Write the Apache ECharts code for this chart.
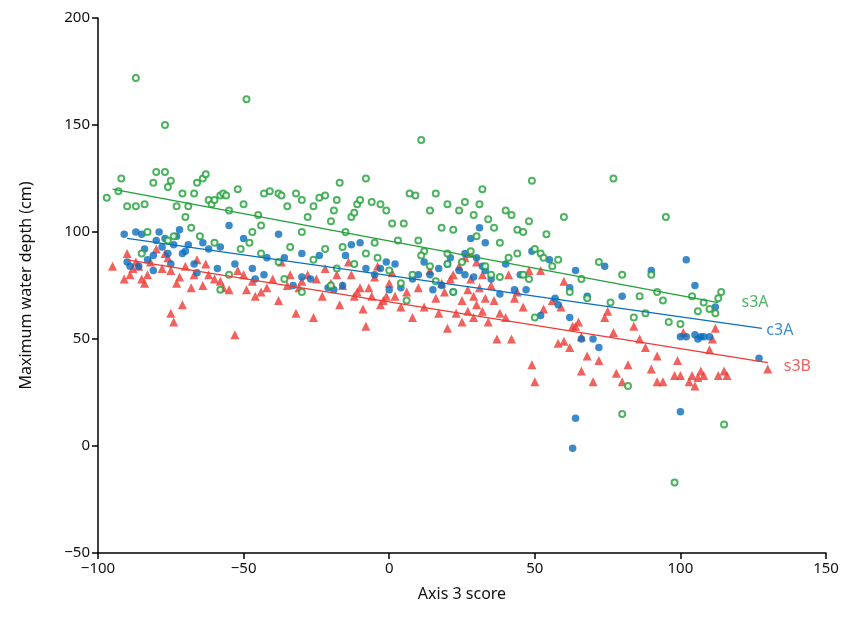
<!DOCTYPE html>
<html><head><meta charset="utf-8">
<script src="https://cdn.jsdelivr.net/npm/echarts@6/dist/echarts.min.js"></script>
<style>html,body{margin:0;padding:0;background:#fff}#c{width:855px;height:623px}</style>
</head><body><div id="c"></div>
<script>
const s3A = [[-87,172],[-49,162],[-77,150],[11,143],[49,124],[77,125],[-17,123],[95,107],[-97,116],[-93,119],[-92,125],[-90,112],[-87,112],[-84,113],[-81,123],[-80,128],[-77,128],[-76,121],[-75,124],[-73,112],[-71,118],[-70,107],[-69,112],[-67,118],[-66,123],[-64,125],[-63,127],[-62,115],[-61,113],[-60,115],[-58,117],[-57,118],[-56,117],[-55,110],[-52,120],[-50,113],[-48,95],[-47,100],[-45,108],[-44,103],[-43,118],[-41,119],[-38,118],[-37,117],[-35,112],[-32,118],[-30,115],[-28,107],[-26,112],[-24,116],[-22,117],[-20,105],[-19,110],[-18,115],[-15,100],[-13,107],[-12,109],[-11,113],[-10,115],[-8,125],[-6,114],[-5,95],[-3,113],[-1,110],[1,104],[3,96],[5,104],[7,118],[9,117],[10,96],[12,91],[14,110],[16,118],[18,102],[20,113],[22,101],[24,110],[26,114],[29,108],[31,113],[32,120],[34,106],[36,102],[38,95],[40,110],[42,108],[44,101],[46,100],[48,105],[50,92],[52,90],[54,99],[58,87],[60,107],[62,72],[66,78],[68,69],[72,86],[76,67],[80,80],[82,28],[84,60],[86,70],[88,62],[90,80],[92,72],[94,68],[96,58],[98,-17],[100,57],[104,70],[106,63],[108,67],[110,64],[112,62],[113,69],[114,72],[115,10],[80,15],[-85,90],[-83,100],[-76,96],[-74,98],[-68,102],[-65,98],[-60,95],[-55,80],[-51,92],[-44,90],[-38,86],[-34,93],[-30,100],[-26,87],[-22,92],[-18,83],[-16,93],[-12,85],[-8,90],[-4,88],[0,82],[4,76],[6,68],[8,80],[11,89],[14,84],[16,77],[20,85],[22,72],[25,86],[28,91],[30,98],[33,84],[35,80],[38,79],[41,88],[44,90],[46,80],[48,78],[50,60],[53,88],[56,84],[-58,73],[-36,78],[-30,72],[-20,75],[20,90]];
const c3A = [[-91,99],[-89,84],[-87,100],[-85,99],[-84,92],[-83,87],[-81,82],[-80,96],[-79,100],[-78,93],[-77,97],[-76,90],[-75,85],[-74,94],[-73,98],[-72,101],[-71,90],[-70,91],[-69,94],[-67,85],[-66,81],[-64,95],[-62,92],[-58,93],[-55,103],[-53,85],[-50,97],[-47,83],[-46,78],[-43,80],[-42,88],[-38,99],[-36,88],[-33,75],[-30,90],[-27,78],[-24,89],[-21,74],[-19,73],[-16,75],[-15,89],[-13,94],[-10,95],[-8,83],[-5,80],[-3,83],[-1,86],[2,85],[4,74],[8,78],[10,80],[12,86],[14,80],[15,73],[18,75],[20,85],[22,72],[24,82],[26,90],[28,97],[30,88],[31,102],[32,84],[33,82],[35,78],[38,71],[40,85],[43,73],[45,80],[47,73],[49,91],[52,61],[55,87],[57,69],[58,66],[63,-1],[64,13],[62,60],[64,82],[66,50],[68,70],[70,50],[72,46],[74,84],[80,70],[90,82],[100,16],[102,87],[102,51],[105,75],[105,52],[106,50],[107,51],[108,51],[112,65],[127,41],[-90,86],[-86,84],[-81,89],[-59,83],[-30,79],[0,73],[17,83],[21,88],[26,80],[29,79],[33,95],[62,74],[100,51],[110,51]];
const s3B = [[-91,78],[-90,90],[-89,80],[-88,83],[-87,86],[-86,84],[-85,78],[-84,76],[-83,80],[-82,86],[-80,92],[-78,83],[-77,90],[-76,88],[-75,82],[-75,62],[-74,58],[-73,76],[-72,79],[-71,66],[-70,84],[-68,74],[-67,80],[-66,87],[-64,75],[-63,85],[-62,80],[-60,78],[-58,77],[-57,74],[-55,73],[-53,52],[-52,82],[-50,80],[-49,73],[-47,77],[-46,70],[-44,72],[-42,74],[-40,78],[-38,68],[-37,86],[-35,75],[-34,80],[-32,62],[-31,74],[-30,77],[-28,80],[-26,60],[-25,78],[-23,70],[-22,83],[-20,76],[-18,80],[-17,66],[-16,75],[-14,86],[-13,80],[-12,70],[-11,72],[-10,74],[-9,64],[-8,56],[-7,74],[-6,70],[-5,79],[-4,84],[-3,66],[-2,68],[-1,70],[0,76],[1,81],[2,70],[4,65],[6,72],[8,60],[10,74],[12,65],[14,82],[16,69],[17,62],[18,76],[19,72],[20,55],[21,78],[22,80],[23,62],[24,84],[25,68],[25,58],[26,88],[27,73],[27,63],[28,90],[28,78],[29,70],[29,60],[30,86],[30,66],[31,74],[32,80],[32,63],[33,69],[34,58],[35,75],[36,68],[37,50],[38,62],[40,60],[41,80],[42,50],[43,69],[44,72],[46,65],[48,82],[49,38],[50,30],[52,82],[53,64],[56,68],[58,48],[59,65],[60,77],[62,46],[63,56],[64,56],[65,58],[66,51],[66,35],[68,42],[70,30],[72,40],[74,60],[75,63],[77,53],[78,34],[80,30],[82,38],[84,56],[86,50],[88,46],[90,36],[92,30],[92,42],[94,30],[98,33],[99,40],[100,33],[101,53],[103,30],[104,33],[105,28],[106,32],[107,35],[108,33],[110,45],[111,50],[112,55],[113,33],[115,35],[116,33],[130,36],[60,49],[-95,84]];
const fitS3A = [[-95,120],[113,67]];
const fitC3A = [[-90,97],[128,55]];
const fitS3B = [[-90,87],[130,39]];
const labels = [{name:'s3A',pos:[121,67],color:'#22a03a'},{name:'c3A',pos:[129.5,54],color:'#0a6ebd'},{name:'s3B',pos:[135.5,37],color:'#ee3b35'}];
const xTicks=[-100,-50,0,50,100,150], yTicks=[-50,0,50,100,150,200];
const G='#22a03a',B='#0a6ebd',R='#ee3b35';
const fmt=v=>String(v).replace('-','\u2212');
const font='"Noto Sans", sans-serif';
const chart=echarts.init(document.getElementById('c'));
const ax={axisLine:{onZero:false,lineStyle:{color:'#000',width:1.5}},axisTick:{inside:false,length:6,lineStyle:{color:'#000',width:1.5}},splitLine:{show:false},axisLabel:{color:'#111',fontSize:15,fontFamily:font,formatter:fmt},nameTextStyle:{color:'#111',fontSize:16,fontFamily:font}};
chart.setOption({animation:false,
grid:{left:98,right:29,top:18,bottom:70},
xAxis:Object.assign({type:'value',min:xTicks[0],max:xTicks[xTicks.length-1],interval:50,name:'Axis 3 score',nameLocation:'middle',nameGap:33},ax),
yAxis:Object.assign({type:'value',min:yTicks[0],max:yTicks[yTicks.length-1],interval:50,name:'Maximum water depth (cm)',nameLocation:'middle',nameGap:64},ax),
series:[
{type:'scatter',data:s3B,symbol:'triangle',symbolSize:9,itemStyle:{color:R}},
{type:'scatter',data:c3A,symbol:'circle',symbolSize:7.5,itemStyle:{color:B}},
{type:'scatter',data:s3A,symbol:'emptyCircle',symbolSize:6,itemStyle:{color:G,borderColor:G,borderWidth:1.8}},
{type:'line',data:fitS3A,showSymbol:false,lineStyle:{color:G,width:1.3}},
{type:'line',data:fitC3A,showSymbol:false,lineStyle:{color:B,width:1.3}},
{type:'line',data:fitS3B,showSymbol:false,lineStyle:{color:R,width:1.3}},
{type:'scatter',symbolSize:0,data:labels.map(l=>({value:l.pos,name:l.name,label:{show:true,position:'right',distance:0,formatter:l.name,color:l.color,fontSize:16,fontFamily:font}}))}
]});
</script></body></html>
